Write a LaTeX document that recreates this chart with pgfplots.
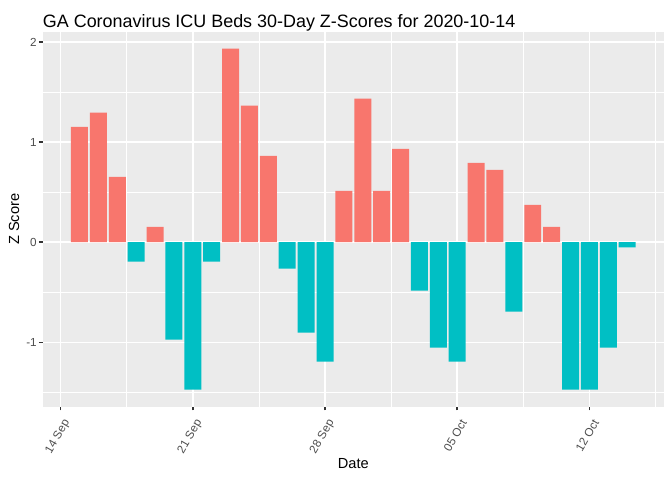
\documentclass[border=0pt]{standalone}
\usepackage{fontspec}
\setmainfont{Liberation Sans}
\usepackage{pgfplots}
\pgfplotsset{compat=1.18}
\definecolor{ggred}{HTML}{F8766D}
\definecolor{ggteal}{HTML}{00BFC4}
\definecolor{ggbg}{HTML}{EBEBEB}
\definecolor{gray30}{HTML}{4D4D4D}
\definecolor{gray20}{HTML}{333333}
\begin{document}
\begin{tikzpicture}
\useasboundingbox (-32bp,-55bp) rectangle (472bp,305bp);
\begin{axis}[
  at={(0,0)}, anchor=south west,
  scale only axis, width=466bp, height=281.25bp,
  xmin=-0.95, xmax=31.95, ymin=-1.643, ymax=2.103,
  axis background/.style={fill=ggbg},
  axis line style={draw=none},
  ybar, bar width=0.9, bar shift=0pt,
  xtick={0,7,14,21,28}, xticklabels={14 Sep,21 Sep,28 Sep,05 Oct,12 Oct},
  minor xtick={3.5,10.5,17.5,24.5,31.5},
  ytick={-1,0,1,2}, yticklabels={-1,0,1,2},
  minor ytick={-1.5,-0.5,0.5,1.5},
  grid=both,
  major grid style={white, line width=1.07bp},
  minor grid style={white, line width=0.53bp},
  tick align=outside, tick pos=left,
  major tick length=2.75bp, minor tick length=0pt,
  tick style={gray20, line width=1.07bp},
  yticklabel style={font=\fontsize{8.8}{10}\selectfont, text=gray30, anchor=east, inner sep=0pt, xshift=-1.5bp},
  xticklabel style={font=\fontsize{8.8}{10}\selectfont, text=gray30, xshift=5bp, yshift=-7.5bp, rotate=60, anchor=east, inner sep=0pt},
  xlabel={Date}, ylabel={Z Score},
  every axis x label/.style={at={(axis description cs:0.5,0)}, anchor=center, yshift=-43bp, font=\fontsize{11}{13}\selectfont},
  every axis y label/.style={at={(axis description cs:0,0.5)}, xshift=-21.5bp, anchor=center, rotate=90, font=\fontsize{11}{13}\selectfont},
]
\addplot[fill=ggred, draw=none] coordinates {
(1,1.153) (2,1.293) (3,0.653) (5,0.153) (9,1.933) (10,1.363) (11,0.863)
(15,0.513) (16,1.433) (17,0.513) (18,0.933) (22,0.793) (23,0.723)
(25,0.373) (26,0.153)
};
\addplot[fill=ggteal, draw=none] coordinates {
(4,-0.193) (6,-0.973) (7,-1.473) (8,-0.193) (12,-0.263) (13,-0.903)
(14,-1.193) (19,-0.483) (20,-1.053) (21,-1.193) (24,-0.693)
(27,-1.473) (28,-1.473) (29,-1.053) (30,-0.053)
};
\end{axis}
\node[anchor=base west, inner sep=0pt, font=\fontsize{13.5}{15}\selectfont] at (0bp,284bp) {GA Coronavirus ICU Beds 30-Day Z-Scores for 2020-10-14};
\end{tikzpicture}
\end{document}
